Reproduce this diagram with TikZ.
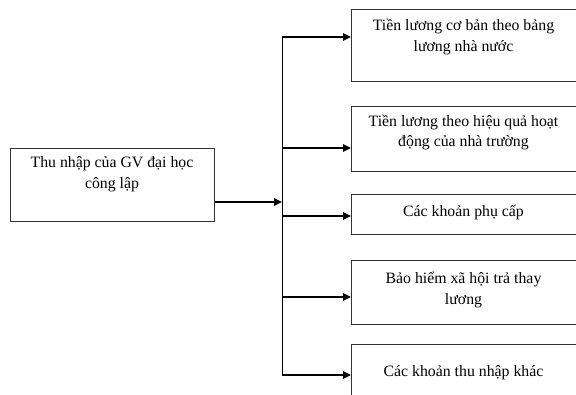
\documentclass[tikz,border=0pt]{standalone}
\usepackage{fontspec}
\setmainfont{Liberation Serif}
\usetikzlibrary{arrows.meta}
\tikzset{
  box/.style={draw=black!80, line width=0.8pt, anchor=north west, inner sep=0pt},
  lbl/.style={align=center, font=\fontsize{15.8}{20.5}\selectfont, inner sep=0pt},
  feed/.style={line width=1.6pt, -{Triangle[length=8pt,width=7.5pt]}},
  bus/.style={line width=0.9pt}
}
\begin{document}
\begin{tikzpicture}[x=1pt, y=-1pt]
\useasboundingbox (0,0) rectangle (576,394);

% source box
\node[box, minimum width=204pt, minimum height=73pt] (src) at (10,148) {};
\node[lbl] (srct) at (112,174) {Thu nhập của GV đại học\\công lập};

% component boxes
\node[box, minimum width=226pt, minimum height=72pt] (b1) at (351,9) {};
\node[box, minimum width=226pt, minimum height=65pt] (b2) at (351,106) {};
\node[box, minimum width=226pt, minimum height=40pt] (b3) at (351,194) {};
\node[box, minimum width=226pt, minimum height=64pt] (b4) at (351,260) {};
\node[box, minimum width=226pt, minimum height=70pt] (b5) at (351,344) {};

\node[lbl] (t1) at (463.5,37) {Tiền lương cơ bản theo bảng\\lương nhà nước};
\node[lbl] (t2) at (463.5,132.5) {Tiền lương theo hiệu quả hoạt\\động của nhà trường};
\node[lbl] (t3) at (463.5,212) {Các khoản phụ cấp};
\node[lbl] (t4) at (463.5,290) {Bảo hiểm xã hội trả thay\\lương};
\node[lbl] (t5) at (463.5,373) {Các khoản thu nhập khác};

% junctions on the distribution bus
\coordinate (j0) at (282,202);
\coordinate (j1) at (282,37);
\coordinate (j2) at (282,148);
\coordinate (j3) at (282,216);
\coordinate (j4) at (282,297);
\coordinate (j5) at (282,375);

\draw[bus] (j1) -- (j5);
\draw[feed] (src.east |- j0) -- (j0);
\draw[feed] (j1) -- (b1.west |- j1);
\draw[feed] (j2) -- (b2.west |- j2);
\draw[feed] (j3) -- (b3.west |- j3);
\draw[feed] (j4) -- (b4.west |- j4);
\draw[feed] (j5) -- (b5.west |- j5);
\end{tikzpicture}
\end{document}
